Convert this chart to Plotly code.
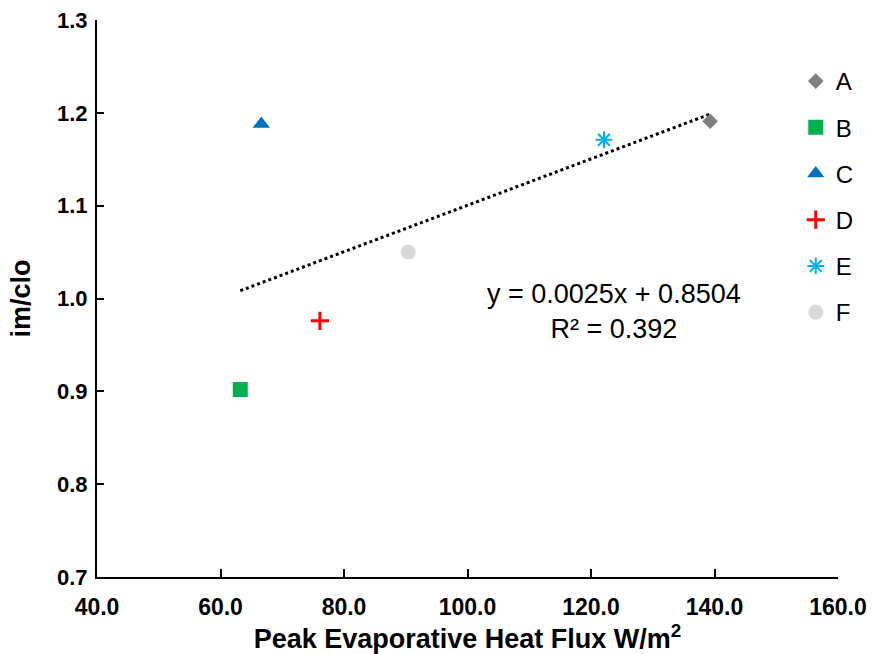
import plotly.graph_objects as go

names = ["A", "B", "C", "D", "E", "F"]
x_vals = [139.3, 63.2, 66.6, 76.1, 122.1, 90.4]
y_vals = [1.191, 0.902, 1.188, 0.976, 1.171, 1.050]
colors = ["#7f7f7f", "#00b050", "#0070c0", "#ff0000", "#00b0f0", "#d9d9d9"]
symbols = ["diamond", "square", "triangle-up", "cross-thin-open", "asterisk-open", "circle"]
sizes = [12, 15, 15, 13, 14, 15]
slope, intercept = 0.0025, 0.8504
eq_text = "y = 0.0025x + 0.8504<br>R² = 0.392"
x_ticks = [40, 60, 80, 100, 120, 140, 160]
y_ticks = [0.7, 0.8, 0.9, 1.0, 1.1, 1.2, 1.3]

FONT = "Liberation Sans, Arial"

fig = go.Figure()
xmin, xmax = min(x_vals), max(x_vals)
fig.add_trace(go.Scatter(
    x=[xmin, xmax], y=[slope * xmin + intercept, slope * xmax + intercept],
    mode="lines", line=dict(color="black", width=3, dash="dot"),
    showlegend=False, hoverinfo="skip"))

for n, xv, yv, c, s, sz in zip(names, x_vals, y_vals, colors, symbols, sizes):
    lw = 3 if s == "cross-thin-open" else (2 if s == "asterisk-open" else 0)
    fig.add_trace(go.Scatter(
        x=[xv], y=[yv], mode="markers", name=n, legendgroup=n,
        marker=dict(symbol=s, color=c, size=sz, line=dict(color=c, width=lw))))

fig.add_annotation(x=0.698, y=0.476, xref="paper", yref="paper", text=eq_text,
                   showarrow=False, font=dict(family=FONT, size=27, color="black"),
                   align="center", xanchor="center", yanchor="middle")

fig.update_layout(
    width=873, height=654,
    margin=dict(l=97, r=35, t=20, b=77),
    plot_bgcolor="white", paper_bgcolor="white",
    font=dict(family=FONT, color="black"),
    legend=dict(x=0.943, y=0.93, xanchor="left", yanchor="top",
                font=dict(family=FONT, size=24, color="black"),
                tracegroupgap=12, bgcolor="rgba(0,0,0,0)", itemwidth=30),
    xaxis=dict(range=[40, 160], tickvals=x_ticks, ticktext=[f"{v:.1f}" for v in x_ticks],
               automargin=False, ticklabeloverflow="allow",
               showgrid=False, zeroline=False, showline=True, linecolor="black", linewidth=2,
               ticks="inside", ticklen=8, tickwidth=2, tickcolor="black",
               ticklabelstandoff=8,
               tickfont=dict(family=FONT, size=23, color="black", weight="bold"),
               title=dict(text="<b>Peak Evaporative Heat Flux W/m<sup>2</sup></b>",
                          font=dict(family=FONT, size=27, color="black"), standoff=6)),
    yaxis=dict(range=[0.7, 1.3], tickvals=y_ticks, ticktext=[f"{v:.1f}" for v in y_ticks],
               automargin=False, ticklabeloverflow="allow",
               showgrid=False, zeroline=False, showline=True, linecolor="black", linewidth=2,
               ticks="inside", ticklen=7, tickwidth=2, tickcolor="black",
               ticklabelstandoff=3,
               tickfont=dict(family=FONT, size=22, color="black", weight="bold"),
               title=dict(text="<b>im/clo</b>",
                          font=dict(family=FONT, size=27, color="black"), standoff=19)),
)
fig.write_html("out.html", config={"displayModeBar": False},
               post_script="document.body.style.margin='0';document.body.style.overflow='hidden';")
